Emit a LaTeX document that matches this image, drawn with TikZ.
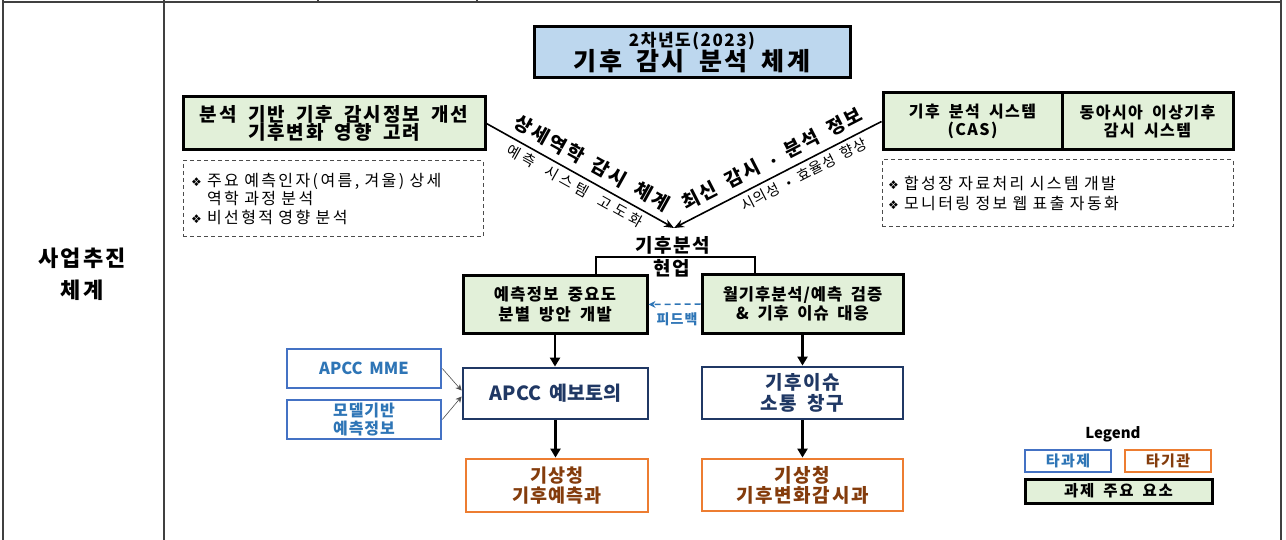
\documentclass[tikz,border=0pt]{standalone}
\usepackage{fontspec}
\setmainfont{Noto Sans CJK KR}[WordSpace=1.8]
\newfontfamily\symfont{DejaVu Sans}
\usetikzlibrary{arrows.meta}
\definecolor{tblue}{HTML}{BDD7EE}
\definecolor{lgreen}{HTML}{E2F0D9}
\definecolor{bborder}{HTML}{4472C4}
\definecolor{btext}{HTML}{2E75B6}
\definecolor{navy}{HTML}{203864}
\definecolor{orng}{HTML}{ED7D31}
\definecolor{brwn}{HTML}{843C0C}
\definecolor{fblue}{HTML}{2E75B6}
\definecolor{tline}{HTML}{404040}
\newcommand\fz[2]{\fontsize{#1}{#2}\selectfont}
\newcommand\ls[1]{\addfontfeature{LetterSpace=#1}}
\newcommand\bul{{\symfont\fz{12}{12}\char"2756}}
\newcommand\mdot{{\symfont\fz{11}{11}\char"2022}}
\begin{document}
\begin{tikzpicture}[x=1pt,y=-1pt,
  gbox/.style={draw=black, line width=3pt, fill=lgreen, align=center, inner sep=0pt, font=\bfseries},
  dbox/.style={draw=black!70, line width=1pt, dash pattern=on 4pt off 3pt, align=left, inner sep=0pt},
  bbox/.style={draw=bborder, line width=2.6pt, fill=white, align=center, inner sep=0pt, text=btext, font=\bfseries},
  nbox/.style={draw=navy, line width=2.8pt, fill=white, align=center, inner sep=0pt, text=navy, font=\bfseries},
  obox/.style={draw=orng, line width=2.8pt, fill=white, align=center, inner sep=0pt, text=brwn, font=\bfseries},
  thk/.style={line width=2.6pt, -{Triangle[length=9pt,width=10pt]}},
  diag/.style={line width=1.6pt, -{Stealth[length=10pt,width=8pt]}},
  thin/.style={line width=0.6pt, draw=black!70, -{Stealth[length=6pt,width=6pt]}},
  fb/.style={line width=1.5pt, draw=fblue, dash pattern=on 6pt off 4pt, -{Stealth[length=7pt,width=7pt]}},
  tbl/.style={line width=1.3pt, draw=tline},
  lbl/.style={inner sep=0pt}
]
\useasboundingbox (0,0) rectangle (1286,540);

% table frame
\coordinate (t0) at (3,2);
\coordinate (t1) at (1281,2);
\draw[tbl] (t0) -- (t1);
\draw[tbl] (3,0) -- (3,540);
\draw[tbl] (164,0) -- (164,540);
\draw[tbl] (1281,0) -- (1281,540);
\draw[tbl] (318,0) -- (318,2);
\draw[tbl] (477,0) -- (477,2);

% left cell
\node[lbl, align=center, font=\bfseries\fz{22}{32}\ls{10}] (cell) at (82,274) {사업추진\\체계};

% title
\node[draw=black, line width=3pt, fill=tblue, minimum width=316pt, minimum height=51pt, align=center, inner sep=0pt, font=\bfseries] (title) at (692,52.5)
  {{\fz{17}{22}\ls{9}2차년도(2023)}\\[-1pt]{\fz{25}{25}\ls{9}기후 감시 분석 체계}};

% top left
\node[gbox, minimum width=302pt, minimum height=53pt, font=\bfseries\fz{19}{18.5}\ls{10}] (lg) at (334,123.5)
  {분석 기반 기후 감시정보 개선\\기후변화 영향 고려};
\node[dbox, minimum width=300pt, minimum height=76pt, text width=284pt, font=\fz{16}{18.5}\ls{15}] (ld) at (333,199)
  {\bul\ 주요 예측인자(여름, 겨울) 상세\\\phantom{\bul\ }역학 과정 분석\\\bul\ 비선형적 영향 분석};

% top right
\node[gbox, minimum width=179pt, minimum height=57pt, font=\bfseries\fz{16}{17.5}\ls{9}] (rg1) at (972.5,121.5)
  {기후 분석 시스템\\(CAS)};
\node[gbox, minimum width=171pt, minimum height=57pt, font=\bfseries\fz{16}{17.5}\ls{9}] (rg2) at (1147.5,121.5)
  {동아시아 이상기후\\감시 시스템};
\node[dbox, minimum width=351pt, minimum height=67pt, text width=339pt, font=\fz{16}{20}\ls{15}] (rd) at (1057.5,193.5)
  {\bul\ 합성장 자료처리 시스템 개발\\\bul\ 모니터링 정보 웹 표출 자동화};

% convergence
\coordinate (conv) at (674,228);
\draw[diag] (lg.east) -- node[lbl, sloped, above=7pt, pos=0.52, font=\bfseries\fz{19}{19}\ls{12}] (la1) {상세역학 감시 체계}
  node[lbl, sloped, below=4pt, pos=0.5, font=\fz{14.5}{14.5}\ls{28}] (la2) {예측 시스템 고도화} (conv);
\draw[diag, {Stealth[length=10pt,width=8pt]}-] (conv) -- node[lbl, sloped, above=7pt, pos=0.51, font=\bfseries\fz{19}{19}\ls{10}] (ra1) {최신 감시 \mdot{} 분석 정보}
  node[lbl, sloped, below=4pt, pos=0.6, font=\fz{14.5}{14.5}\ls{6}] (ra2) {시의성 \mdot{} 효율성 향상} (rg1.west);

\node[lbl, font=\bfseries\fz{19}{19}\ls{8}] (ka) at (673,245) {기후분석};
\node[lbl, font=\bfseries\fz{19}{19}\ls{8}] (hy) at (672,268) {현업};

% middle boxes
\node[gbox, minimum width=184pt, minimum height=57pt, font=\bfseries\fz{16.5}{20}\ls{8}] (ml) at (555,304.5)
  {예측정보 중요도\\분별 방안 개발};
\node[gbox, minimum width=201pt, minimum height=58pt, font=\bfseries\fz{16.5}{19}\ls{6}] (mr) at (802.5,304)
  {월기후분석/예측 검증\\\& 기후 이슈 대응};

\coordinate (bl) at (596,257);
\coordinate (br) at (755,257);
\draw[line width=1.2pt] (ml.north -| bl) -- (bl) -- (br) -- (mr.north -| br);

\draw[fb] (mr.west) -- (ml.east);
\node[lbl, text=fblue, font=\bfseries\fz{14}{14}\ls{8}] (fbl) at (677,319) {피드백};

% lower left
\node[nbox, minimum width=185pt, minimum height=51pt, font=\bfseries\fz{19.5}{19.5}] (apcc) at (555.5,393.5) {APCC 예보토의};
\node[obox, minimum width=182pt, minimum height=53pt, font=\bfseries\fz{18.5}{20}\ls{6}] (orl) at (557,485.5) {기상청\\기후예측과};
\node[bbox, minimum width=154pt, minimum height=39pt, font=\bfseries\fz{16.5}{16.5}] (mme) at (364,368.5) {APCC MME};
\node[bbox, minimum width=154pt, minimum height=39pt, font=\bfseries\fz{16}{18}\ls{6}] (mdl) at (364,419.5) {모델기반\\예측정보};

\draw[thk] (ml.south) -- (ml.south |- apcc.north);
\draw[thk] (apcc.south) -- (apcc.south |- orl.north);
\draw[thin] (mme.east) -- ([yshift=3pt]apcc.west);
\draw[thin] (mdl.east) -- ([yshift=-3pt]apcc.west);

% lower right
\node[nbox, minimum width=201pt, minimum height=52pt, font=\bfseries\fz{19}{21}\ls{8}] (iss) at (802.5,393) {기후이슈\\소통 창구};
\node[obox, minimum width=201pt, minimum height=52pt, font=\bfseries\fz{19}{20}\ls{9}] (orr) at (802.5,485) {기상청\\기후변화감시과};
\draw[thk] (mr.south) -- (mr.south |- iss.north);
\draw[thk] (iss.south) -- (iss.south |- orr.north);

% legend
\node[lbl, font=\bfseries\fz{15}{15}] (lgt) at (1113,434) {Legend};
\node[bbox, minimum width=86pt, minimum height=22pt, font=\bfseries\fz{15}{15}\ls{10}] (lb1) at (1068,461) {타과제};
\node[obox, minimum width=86pt, minimum height=22pt, font=\bfseries\fz{15}{15}\ls{10}] (lb2) at (1168,461) {타기관};
\node[gbox, minimum width=187pt, minimum height=24pt, font=\bfseries\fz{15.5}{15.5}\ls{10}] (lb3) at (1118.5,491) {과제 주요 요소};
\end{tikzpicture}
\end{document}
